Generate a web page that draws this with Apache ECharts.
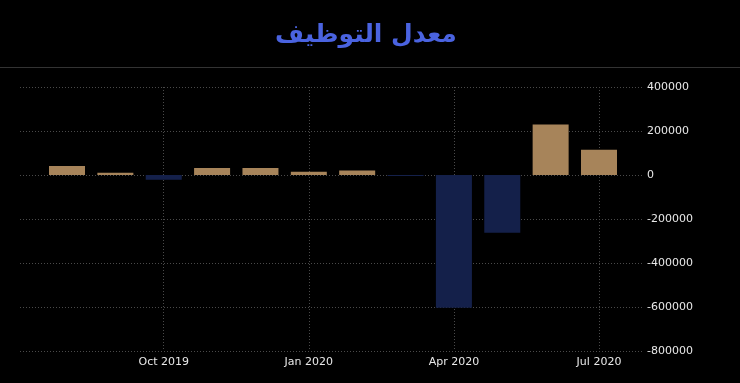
<!DOCTYPE html>
<html>
<head>
<meta charset="utf-8">
<script src="https://cdn.jsdelivr.net/npm/echarts@6/dist/echarts.min.js"></script>
<style>
html,body{margin:0;padding:0;background:#000;}
#c{width:740px;height:383px;}
</style>
</head>
<body>
<div id="c"></div>
<script>
const titleText = 'معدل التوظيف';
const months = ['Aug 2019','Sep 2019','Oct 2019','Nov 2019','Dec 2019','Jan 2020','Feb 2020','Mar 2020','Apr 2020','May 2020','Jun 2020','Jul 2020'];
const values = [41000, 10000, -22000, 32000, 32000, 15000, 20000, -4000, -603000, -262000, 229000, 115000];
const labeledMonths = ['Oct 2019','Jan 2020','Apr 2020','Jul 2020'];
const yMin = -800000, yMax = 400000, yStep = 200000;

const posColor = '#a7845a';
const negColor = '#14204a';
const gridColor = '#4a4a4a';

const chart = echarts.init(document.getElementById('c'));
const showIdx = (i) => labeledMonths.indexOf(months[i]) >= 0;

chart.setOption({
  backgroundColor: '#000',
  animation: false,
  title: {
    text: titleText,
    left: 270,
    top: 18,
    textStyle: {color: '#4a63e0', fontSize: 25, fontWeight: 'bold', fontFamily: 'DejaVu Sans'}
  },
  graphic: [{
    type: 'line',
    shape: {x1: 0, y1: 67.5, x2: 740, y2: 67.5},
    style: {stroke: '#333', lineWidth: 1}
  }],
  grid: [
    {left: 20, right: 97, top: 87, bottom: 32},
    {left: 67, right: 141, top: 87, bottom: 32}
  ],
  xAxis: [
    {gridIndex: 0, type: 'value', min: 0, max: 1, show: false},
    {
      gridIndex: 1, type: 'category', data: months, boundaryGap: false,
      axisLine: {show: false}, axisTick: {show: false},
      axisLabel: {
        interval: (i) => showIdx(i),
        formatter: (v) => v,
        color: '#e8e8e8', fontSize: 11, fontFamily: 'DejaVu Sans', margin: 6
      },
      splitLine: {
        show: true, interval: (i) => showIdx(i),
        lineStyle: {color: gridColor, type: [1, 2], width: 1}
      }
    }
  ],
  yAxis: [
    {
      gridIndex: 0, type: 'value', position: 'right', min: yMin, max: yMax, interval: yStep,
      axisLine: {show: false}, axisTick: {show: false},
      axisLabel: {color: '#e8e8e8', fontSize: 11, fontFamily: 'DejaVu Sans', margin: 4, formatter: (v) => String(v)},
      splitLine: {show: true, lineStyle: {color: gridColor, type: [1, 2], width: 1}}
    },
    {
      gridIndex: 1, type: 'value', min: yMin, max: yMax, interval: yStep, show: false,
      splitLine: {show: false}
    }
  ],
  series: [{
    type: 'bar',
    xAxisIndex: 1, yAxisIndex: 1,
    clip: false,
    barWidth: 36,
    data: values.map(v => ({value: v, itemStyle: {color: v >= 0 ? posColor : negColor}}))
  }]
});
</script>
</body>
</html>
